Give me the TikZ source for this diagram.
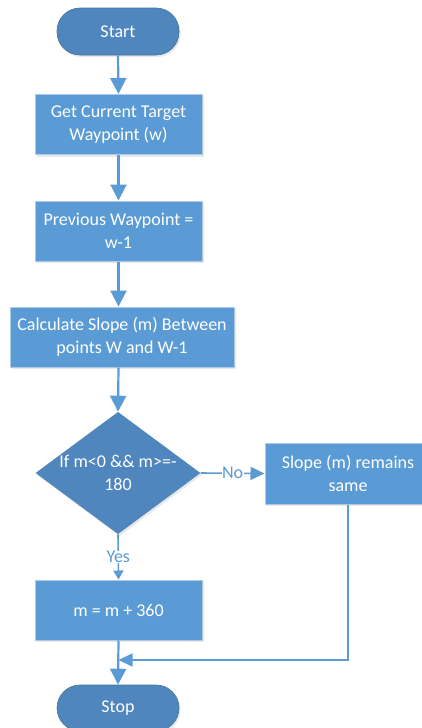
\documentclass[tikz,border=0pt]{standalone}
\usepackage{fontspec}
\setmainfont{Carlito}
\usetikzlibrary{shapes.geometric,shadows,arrows.meta}
\definecolor{boxblue}{HTML}{5B9BD5}
\definecolor{darkblue}{HTML}{4F86BD}
\definecolor{edgeblue}{HTML}{AFC9E6}
\definecolor{rimblue}{HTML}{41719C}
\definecolor{lineblue}{HTML}{5B9BD5}
\begin{document}
\begin{tikzpicture}[x=1pt,y=-1pt,
  every node/.style={font=\fontsize{18}{23}\selectfont, text=white, align=center, inner sep=0pt},
  softshadow/.style={drop shadow={opacity=0.18, shadow xshift=1.5pt, shadow yshift=-2pt}},
  terminal/.style={rectangle, rounded corners=23pt, fill=darkblue, draw=rimblue, line width=0.6pt,
    minimum width=122pt, minimum height=47pt, softshadow},
  process/.style={rectangle, fill=boxblue, draw=edgeblue, line width=1pt,
    minimum width=167pt, minimum height=60pt, softshadow},
  decision/.style={diamond, aspect=1.35, fill=darkblue,
    minimum width=162pt, minimum height=120pt, softshadow},
  flow/.style={draw=lineblue, line width=2.2pt, -{Triangle[length=16pt,width=16pt]}},
  sideflow/.style={draw=lineblue, line width=1.6pt, -{Triangle[length=14pt,width=13pt]}},
  yesflow/.style={draw=lineblue, line width=1.6pt, -{Triangle[length=9pt,width=10pt]}},
  tag/.style={text=lineblue, fill=white, inner sep=0.5pt}
]
\useasboundingbox (0,0) rectangle (422,728);
\clip (0,0) rectangle (422,728);

% nodes of the flowchart
\node[terminal] (start) at (118,31.5) {Start};
\node[process] (get) at (118.5,124.5) {Get Current Target\\Waypoint (w)};
\node[process] (prev) at (118.5,231) {Previous Waypoint =\\w-1};
\node[process, minimum width=224pt] (calc) at (122,337) {Calculate Slope (m) Between\\points W and W-1};
\node[decision] (test) at (118,473) {If m<0 \&\& m>=-\\180};
\node[process, minimum width=166pt, minimum height=61pt] (keep) at (348,473.5) {Slope (m) remains\\same};
\node[process] (add) at (118.5,610) {m = m + 360};
\node[terminal, minimum height=46pt] (stop) at (118,708) {Stop};
\coordinate (join) at (118.5,660);

% connectors
\draw[flow] (start.south) -- (get.north);
\draw[flow] (get.south) -- (prev.north);
\draw[flow] (prev.south) -- (prev.south |- calc.north);
\draw[flow] (prev.south |- calc.south) -- (test.north);
\draw[sideflow] (test.east) -- node[tag] {No} (keep.west);
\draw[yesflow] (test.south) -- node[tag] {Yes} (add.north);
\draw[sideflow] (keep.south) |- (join);
\draw[flow] (add.south) -- (stop.north);
\end{tikzpicture}
\end{document}
